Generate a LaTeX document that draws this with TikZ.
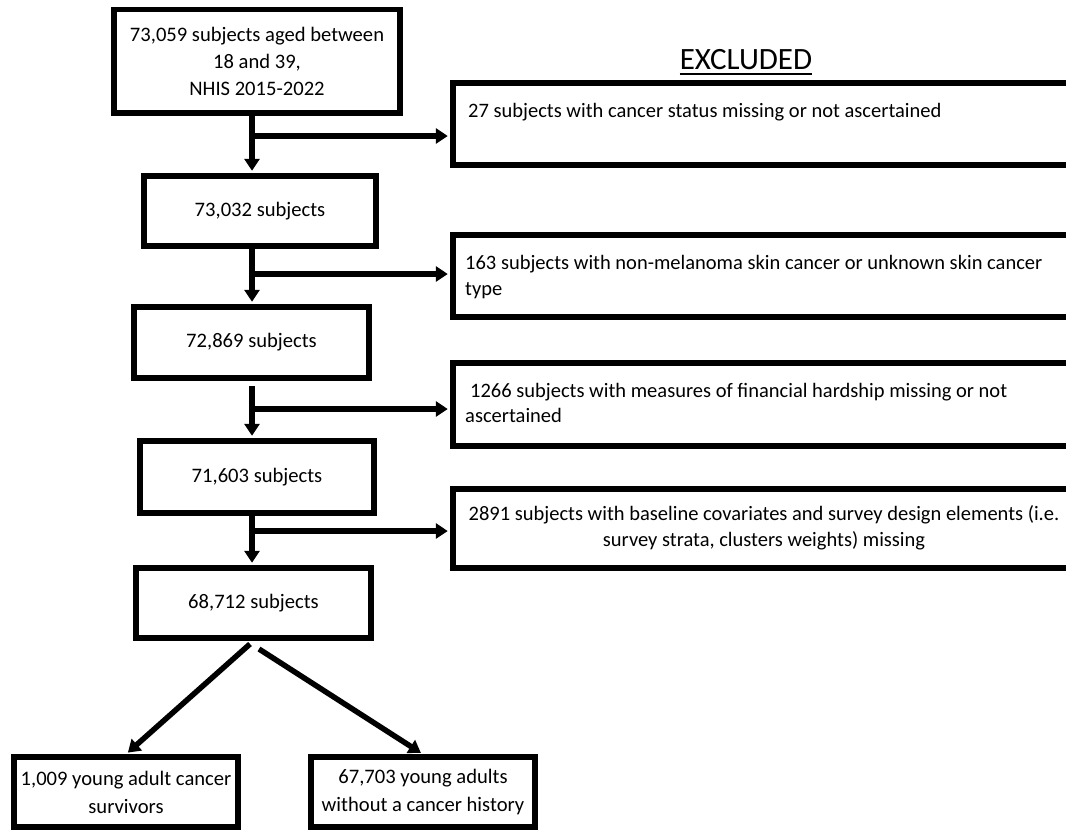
\documentclass[tikz,border=0pt]{standalone}
\usepackage{fontspec}
\setmainfont{Carlito}
\usetikzlibrary{arrows.meta}
\begin{document}
\begin{tikzpicture}[x=1pt,y=-1pt,
  box/.style={draw=black, line width=5.5pt, fill=white, inner sep=0pt, align=center, font=\fontsize{20.6}{27}\selectfont},
  exbox/.style={draw=black, line width=5.5pt, fill=white, inner sep=0pt, minimum width=622pt},
  extext/.style={anchor=west, inner sep=0pt, align=left, font=\fontsize{20.5}{25.5}\selectfont},
  arr/.style={line width=5.5pt, -{Triangle[length=12pt,width=15pt]}, shorten >=2.5pt},
  title/.style={font=\fontsize{31}{33}\selectfont, inner sep=0pt, anchor=base}]
\useasboundingbox (0,0) rectangle (1066,830);
\clip (0,0) rectangle (1066,830);
\fill[white] (0,0) rectangle (1066,830);

% main column
\node[box, minimum width=286pt, minimum height=103.5pt] (n0) at (257,61) {73,059 subjects aged between\\18 and 39,\\NHIS 2015-2022};
\node[box, minimum width=232pt, minimum height=70pt] (n1) at (260,211) {73,032 subjects};
\node[box, minimum width=235pt, minimum height=71pt] (n2) at (251.5,342.5) {72,869 subjects};
\node[box, minimum width=234pt, minimum height=72pt] (n3) at (257,477) {71,603 subjects};
\node[box, minimum width=235pt, minimum height=70pt] (n4) at (253.5,603) {68,712 subjects};
\node[box, font=\fontsize{20.6}{28}\selectfont, minimum width=224pt, minimum height=70pt] (n5) at (126,792) {1,009 young adult cancer\\survivors};
\node[box, font=\fontsize{20.6}{28}\selectfont, minimum width=224pt, minimum height=70pt] (n6) at (423,792) {67,703 young adults\\without a cancer history};

% excluded column
\node[title] (exl) at (746,69) {EXCLUDED};
\draw[line width=2.5pt] ([yshift=-5pt]exl.base west) -- ([yshift=-5pt]exl.base east);
\node[exbox, minimum height=82pt] (e1) at (764,124) {};
\node[exbox, minimum height=82pt] (e2) at (764,276) {};
\node[exbox, minimum height=83pt] (e3) at (764,404.5) {};
\node[exbox, minimum height=79pt] (e4) at (764,528.5) {};
\node[extext] (t1) at (468,112) {27 subjects with cancer status missing or not ascertained};
\node[extext] (t2) at (465,277) {163 subjects with non-melanoma skin cancer or unknown skin cancer\\type};
\node[extext] (t3) at (465,403) {\hspace{5pt}1266 subjects with measures of financial hardship missing or not\\ascertained};
\node[extext, anchor=center, align=center] (t4) at (764,528) {2891 subjects with baseline covariates and survey design elements (i.e.\\survey strata, clusters weights) missing};

% trunk and branches
\coordinate (trunk) at (252,0);
\coordinate (b1) at (252,136);
\coordinate (b2) at (252,274);
\coordinate (b3) at (252,409);
\coordinate (b4) at (252,531);
\coordinate (d1) at (250,644);
\coordinate (d2) at (259,649);

\draw[arr] (n0.south -| trunk) -- (n1.north -| trunk);
\draw[arr] (n1.south -| trunk) -- (n2.north -| trunk);
\draw[arr, shorten <=5pt] (n2.south -| trunk) -- (n3.north -| trunk);
\draw[arr] (n3.south -| trunk) -- (n4.north -| trunk);

\draw[arr] (b1) -- (b1 -| e1.west);
\draw[arr] (b2) -- (b2 -| e2.west);
\draw[arr] (b3) -- (b3 -| e3.west);
\draw[arr] (b4) -- (b4 -| e4.west);

\draw[arr] (d1) -- (n5.north);
\draw[arr] (d2) -- (n6.north);
\end{tikzpicture}
\end{document}
